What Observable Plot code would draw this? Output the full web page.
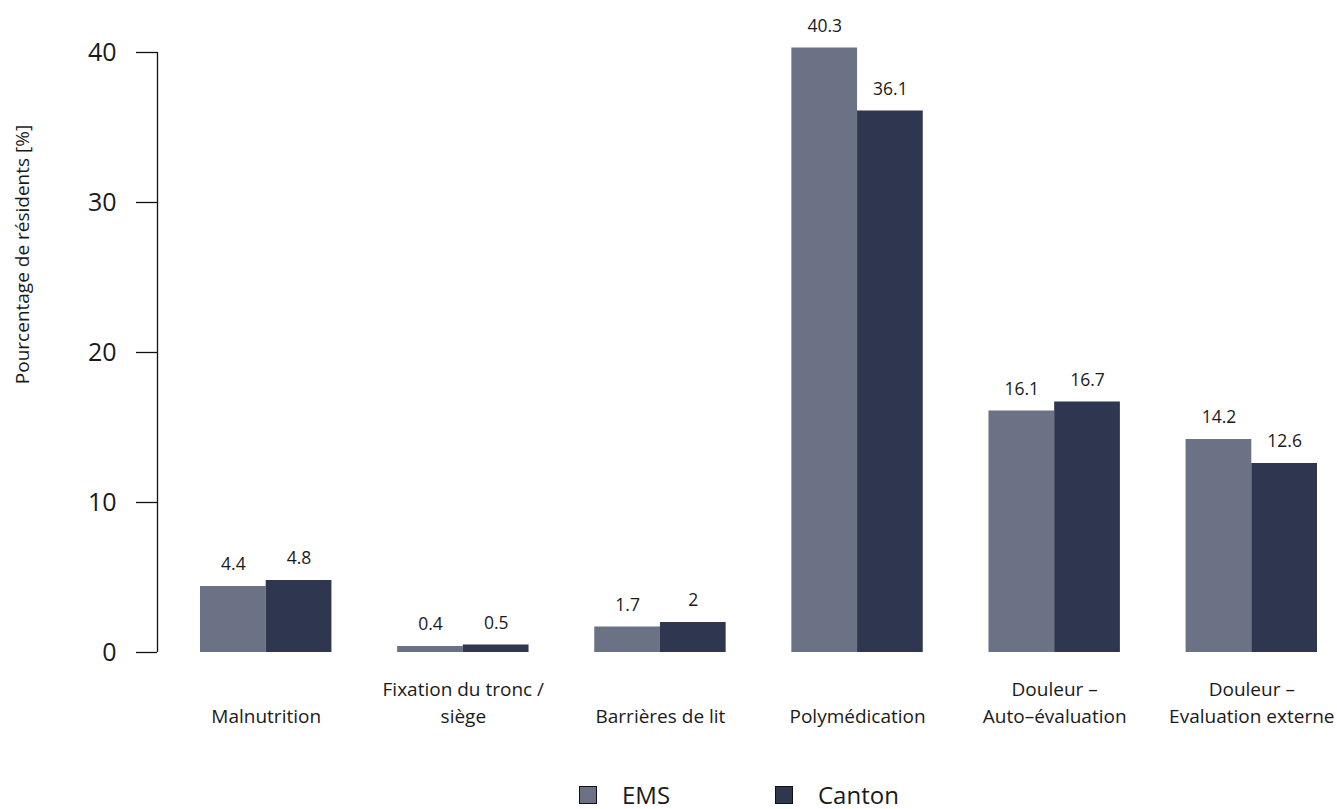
<!DOCTYPE html>
<html>
<head>
<meta charset="utf-8">
<script src="https://cdn.jsdelivr.net/npm/d3@7"></script>
<script src="https://cdn.jsdelivr.net/npm/@observablehq/plot@0.6"></script>
<style>
  body { margin: 0; background: #fff; font-family: "Open Sans", sans-serif; }
  #chart { width: 1337px; }
  #legend { position: relative; height: 29px; width: 1337px; display: flex; align-items: center; padding-left: 579px; box-sizing: border-box; font-size: 24px; color: #1a1a1a; }
  .item { display: flex; align-items: center; width: 196px; }
  .sw { width: 16px; height: 16px; border: 1.5px solid #111; box-sizing: content-box; }
  .lab { margin-left: 25px; line-height: 24px; }
</style>
</head>
<body>
<div id="chart"></div>
<div id="legend"></div>
<script>
const categories = [
  "Malnutrition",
  "Fixation du tronc /\nsiège",
  "Barrières de lit",
  "Polymédication",
  "Douleur –\nAuto–évaluation",
  "Douleur –\nEvaluation externe"
];
const series = ["EMS", "Canton"];
const emsValues = [4.4, 0.4, 1.7, 40.3, 16.1, 14.2];
const cantonValues = [4.8, 0.5, 2.0, 36.1, 16.7, 12.6];
const yTicks = [0, 10, 20, 30, 40];
const seriesColors = ["#6c7285", "#2e374f"];
const yTitle = "Pourcentage de résidents [%]";

// barplot layout: each group = 2 bars of width 1, preceded by a gap of 1
const rows = categories.flatMap((c, g) =>
  series.map((s, k) => ({
    category: c,
    series: s,
    value: (k === 0 ? emsValues : cantonValues)[g],
    slot: g * 3 + k + 1
  }))
);
const groupCenters = categories.map((c, g) => g * 3 + 2);
const xDomain = [0.3456, 18.3044];

const chart = Plot.plot({
  width: 1337,
  height: 780,
  marginTop: 52,
  marginBottom: 128,
  marginLeft: 157,
  marginRight: 0,
  style: { fontFamily: "'Open Sans', sans-serif", color: "#1a1a1a", background: "#fff" },
  x: { type: "linear", domain: xDomain, axis: null },
  y: { domain: [yTicks[0], yTicks[yTicks.length - 1]], axis: null },
  color: { domain: series, range: seriesColors },
  marks: [
    Plot.rectY(rows, { x1: "slot", x2: d => d.slot + 1, y1: 0, y2: "value", fill: "series" }),
    Plot.text(rows, { x: d => d.slot + 0.5, y: "value", text: d => String(d.value), dy: -22, fontSize: 17.5, fill: "#1a1a1a" }),
    Plot.text(categories, { x: (d, i) => groupCenters[i], text: d => d, frameAnchor: "bottom", lineAnchor: "bottom", dy: 70, fontSize: 19, lineHeight: 1.37, fill: "#1a1a1a" }),
    Plot.axisY(yTicks, { tickSize: 21, tickPadding: 20, fontSize: 25, label: null, stroke: "#111", strokeWidth: 1.3, fill: "#1a1a1a" }),
    Plot.ruleX([xDomain[0]], { y1: yTicks[0], y2: yTicks[yTicks.length - 1], stroke: "#111", strokeWidth: 1.3 }),
    Plot.text([yTitle], { frameAnchor: "left", textAnchor: "middle", rotate: -90, dx: -135, dy: -98, fontSize: 19, fill: "#1a1a1a" })
  ]
});
document.getElementById("chart").appendChild(chart);

const legend = document.getElementById("legend");
series.forEach((s, i) => {
  const item = document.createElement("div");
  item.className = "item";
  const sw = document.createElement("div");
  sw.className = "sw";
  sw.style.background = seriesColors[i];
  const lab = document.createElement("span");
  lab.className = "lab";
  lab.textContent = s;
  item.appendChild(sw);
  item.appendChild(lab);
  legend.appendChild(item);
});
</script>
</body>
</html>
